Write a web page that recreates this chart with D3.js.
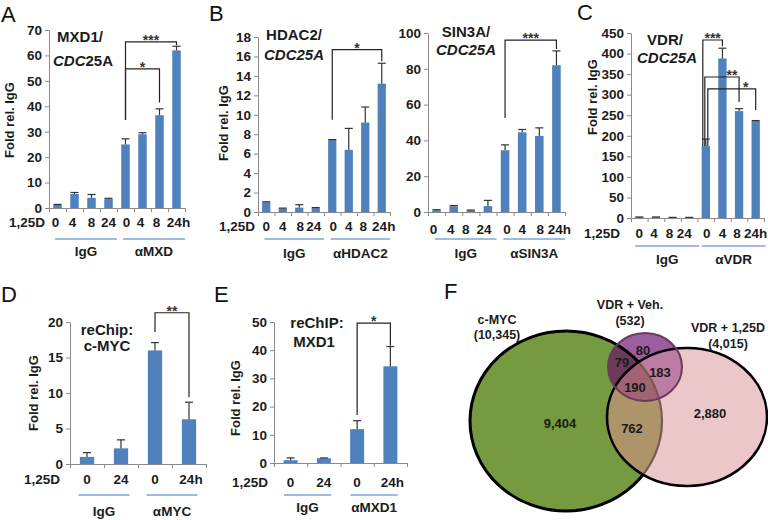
<!DOCTYPE html>
<html>
<head>
<meta charset="utf-8">
<script src="https://cdn.jsdelivr.net/npm/d3@7"></script>
<style>
  body { margin: 0; background: #fff; }
  text { font-family: "Liberation Sans", Arial, sans-serif; }
</style>
</head>
<body>
<script>
// ---- data ----
const timesLong = ["0", "4", "8", "24", "0", "4", "8", "24h"];
const timesShort = ["0", "24", "0", "24h"];

const mxd1Values = [1.2, 5.5, 4.0, 3.5, 25.0, 29.0, 36.5, 62.0];
const mxd1Errors = [0.2, 0.6, 1.3, 0.3, 2.2, 0.6, 2.5, 1.6];

const hdac2Values = [1.0, 0.35, 0.45, 0.4, 7.4, 6.4, 9.2, 13.2];
const hdac2Errors = [0.05, 0.05, 0.3, 0.05, 0.05, 2.2, 1.6, 2.1];

const sin3aValues = [1.0, 3.2, 0.8, 3.3, 34.5, 44.5, 42.5, 82.0];
const sin3aErrors = [0.3, 0.4, 0.3, 3.2, 3.0, 1.6, 4.5, 8.0];

const vdrValues = [2, 2, 1, 1, 175, 388, 260, 236];
const vdrErrors = [0.5, 0.5, 0.5, 0.5, 17, 25, 6, 1];

const mycReValues = [1.0, 2.2, 16.0, 6.3];
const mycReErrors = [0.6, 1.2, 1.1, 2.4];

const mxd1ReValues = [1.0, 1.7, 12.0, 34.3];
const mxd1ReErrors = [0.8, 0.1, 3.0, 7.0];

const vennSets = ["c-MYC", "VDR + Veh.", "VDR + 1,25D"];
const vennTotals = [10345, 532, 4015];
// regions: MYC only, Veh only, MYC&Veh, Veh&125D, all three, 125D only, MYC&125D
const vennRegions = [9404, 80, 79, 183, 190, 2880, 762];

const fmt = d3.format(",");
const BLUE = "#4f81bd", AXIS = "#8a8a8a", INK = "#1c1c1c";
const TICK_FS = 13.5;

const svg = d3.select("body").append("svg")
    .attr("width", 768)
    .attr("height", 520);

function barPanel(p) {
  const g = svg.append("g");
  const n = p.values.length;
  const x = d3.scaleBand().domain(d3.range(n)).range([p.x0, p.x1])
      .paddingInner(p.pad).paddingOuter(p.pad / 2);
  const edge = d3.scaleLinear().domain([0, n]).range([p.x0, p.x1]);
  const y = d3.scaleLinear().domain([0, p.yMax]).range([p.yZero, p.yTop]);
  const step = (p.x1 - p.x0) / n;
  const mid = i => x(i) + x.bandwidth() / 2;

  // bars
  g.selectAll("rect.bar").data(p.values).join("rect")
      .attr("class", "bar")
      .attr("x", (d, i) => x(i))
      .attr("y", d => y(d))
      .attr("width", x.bandwidth())
      .attr("height", d => p.yZero - y(d))
      .attr("fill", BLUE);

  // error bars
  const eb = g.selectAll("g.err").data(p.values.map((v, i) => ({v, e: p.errors[i], i})))
      .join("g").attr("class", "err")
      .attr("stroke", "#333").attr("stroke-width", 1.2);
  eb.append("line")
      .attr("x1", d => mid(d.i)).attr("x2", d => mid(d.i))
      .attr("y1", d => y(d.v)).attr("y2", d => y(d.v + d.e));
  eb.append("line")
      .attr("x1", d => mid(d.i) - 4).attr("x2", d => mid(d.i) + 4)
      .attr("y1", d => y(d.v + d.e)).attr("y2", d => y(d.v + d.e));

  // axes
  const ya = g.append("g").attr("transform", `translate(${p.x0},0)`)
      .call(d3.axisLeft(y).tickValues(d3.range(0, p.yMax + 0.001, p.yStep))
        .tickSize(4).tickPadding(3).tickSizeOuter(0));
  ya.attr("font-family", null).attr("font-size", null);
  ya.selectAll("path, line").attr("stroke", AXIS);
  ya.selectAll("text").attr("font-size", TICK_FS).attr("font-weight", "bold").attr("fill", INK);

  const xa = g.append("g").attr("transform", `translate(0,${p.yZero})`)
      .call(d3.axisBottom(edge).tickValues(d3.range(n + 1)).tickFormat("")
        .tickSize(4).tickSizeOuter(0));
  xa.selectAll("path, line").attr("stroke", AXIS);

  // category labels (typed with uneven spacing in the figure, hence catDx)
  const catDx = p.catDx || [];
  g.selectAll("text.cat").data(p.times).join("text")
      .attr("class", "cat")
      .attr("x", (d, i) => mid(i) + (catDx[i] || 0))
      .attr("y", p.tickY)
      .attr("text-anchor", "middle")
      .attr("font-size", TICK_FS).attr("font-weight", "bold").attr("fill", INK)
      .text(d => d);
  if (p.rowLabelX != null) {
    g.append("text").attr("x", p.rowLabelX).attr("y", p.tickY)
        .attr("text-anchor", "end")
        .attr("font-size", TICK_FS).attr("font-weight", "bold").attr("fill", INK)
        .text("1,25D");
  }

  // group lines + labels
  const per = n / p.groups.length;
  p.groups.forEach((name, k) => {
    const a = edge(k * per) + p.inL * step, b = edge((k + 1) * per) - p.inR * step;
    g.append("line").attr("x1", a).attr("x2", b).attr("y1", p.lineY).attr("y2", p.lineY)
        .attr("stroke", "#7ea6d6").attr("stroke-width", 1.5);
    g.append("text").attr("x", (a + b) / 2).attr("y", p.groupY)
        .attr("text-anchor", "middle")
        .attr("font-size", 13.5).attr("font-weight", "bold").attr("fill", INK)
        .text(name);
  });

  // significance brackets
  (p.brackets || []).forEach(b => {
    const xl = mid(b.from) + (b.dx || 0), xr = mid(b.to);
    g.append("path")
        .attr("d", `M${xl},${y(b.left)}V${y(b.top)}H${xr}V${y(b.right)}`)
        .attr("fill", "none").attr("stroke", "#222").attr("stroke-width", 1.2);
    g.append("text").attr("x", (xl + xr) / 2 + (b.lx || 0)).attr("y", y(b.top) + 3)
        .attr("text-anchor", "middle")
        .attr("font-size", 14).attr("font-weight", "bold").attr("fill", "#333")
        .text(b.label);
  });

  // title
  const t = p.title;
  t.lines.forEach((parts, li) => {
    const tx = g.append("text").attr("x", t.x[li]).attr("y", t.y[li])
        .attr("text-anchor", "middle")
        .attr("font-size", 15).attr("font-weight", "bold").attr("fill", INK);
    parts.forEach(([s, it]) => tx.append("tspan").attr("font-style", it ? "italic" : "normal").text(s));
  });

  // y label
  if (p.yLabel) {
    g.append("text")
        .attr("transform", `translate(${p.yLabel[0]},${p.yLabel[1]}) rotate(-90)`)
        .attr("text-anchor", "middle").attr("dominant-baseline", "central")
        .attr("font-size", 13).attr("font-weight", "bold").attr("fill", INK)
        .text("Fold rel. IgG");
  }

  // panel letter
  if (p.letter) {
    svg.append("text").attr("x", p.letter[1]).attr("y", p.letter[2])
        .attr("font-size", 22).attr("fill", "#111").text(p.letter[0]);
  }
}

barPanel({
  values: mxd1Values, errors: mxd1Errors, times: timesLong, groups: ["IgG", "αMXD"],
  x0: 49, x1: 185, yZero: 208, yTop: 30, yMax: 70, yStep: 10, pad: 0.5,
  tickY: 227, catDx: [-2, -2, 0, 0, 1, -2, -3, 2], rowLabelX: 45,
  lineY: 239, groupY: 256, inL: 0.35, inR: 0,
  title: {x: [80, 83], y: [42, 66], lines: [[["MXD1/", 0]], [["CDC", 1], ["25A", 0]]]},
  yLabel: [9, 120], letter: ["A", 1, 22],
  brackets: [
    {from: 4, to: 7, top: 65.3, left: 34.6, right: 64, label: "***"},
    {from: 4, to: 6, top: 54.7, left: 34.6, right: 41.5, label: "*"}
  ]
});

barPanel({
  values: hdac2Values, errors: hdac2Errors, times: timesLong, groups: ["IgG", "αHDAC2"],
  x0: 258, x1: 390, yZero: 212, yTop: 37, yMax: 18, yStep: 2, pad: 0.5,
  tickY: 231, catDx: [0, 0, 1, -2, 1, 0, -2, 2], rowLabelX: 255,
  lineY: 239, groupY: 258, inL: 0.4, inR: 0,
  title: {x: [294, 294], y: [40, 60], lines: [[["HDAC2/", 0]], [["CDC25A", 1]]]},
  yLabel: [223, 123], letter: ["B", 209, 21],
  brackets: [
    {from: 4, to: 7, top: 16.7, left: 9.5, right: 15.5, label: "*"}
  ]
});

barPanel({
  values: sin3aValues, errors: sin3aErrors, times: timesLong, groups: ["IgG", "αSIN3A"],
  x0: 428, x1: 565, yZero: 212, yTop: 33, yMax: 100, yStep: 20, pad: 0.5,
  tickY: 234, catDx: [-3, -3, -5, -4, 2, 0, 1, 3], rowLabelX: null,
  lineY: 239, groupY: 258, inL: 0.4, inR: 0,
  title: {x: [466, 466], y: [37, 55], lines: [[["SIN3A/", 0]], [["CDC25A", 1]]]},
  yLabel: null, letter: null,
  brackets: [
    {from: 4, to: 7, top: 96, left: 52.5, right: 91, label: "***"}
  ]
});

barPanel({
  values: vdrValues, errors: vdrErrors, times: timesLong, groups: ["IgG", "αVDR"],
  x0: 631, x1: 764, yZero: 218, yTop: 33, yMax: 450, yStep: 50, pad: 0.5,
  tickY: 238, catDx: [0, -2, -3, -5, 1, 0, -2, 0], rowLabelX: 620,
  lineY: 246, groupY: 264, inL: 0.25, inR: -0.1,
  title: {x: [665, 667], y: [45, 63], lines: [[["VDR/", 0]], [["CDC25A", 1]]]},
  yLabel: [592, 97], letter: ["C", 577, 20],
  brackets: [
    {from: 4, to: 5, top: 433, left: 175, right: 418, label: "***", dx: -3},
    {from: 4, to: 6, top: 343, left: 175, right: 282, label: "**", dx: -1, lx: 10},
    {from: 4, to: 7, top: 314, left: 175, right: 263, label: "*", dx: 2, lx: 14}
  ]
});

barPanel({
  values: mycReValues, errors: mycReErrors, times: timesShort, groups: ["IgG", "αMYC"],
  x0: 70, x1: 206, yZero: 464, yTop: 322, yMax: 20, yStep: 5, pad: 0.58,
  tickY: 484, catDx: [0, 0, 0, 2], rowLabelX: 60,
  lineY: 495, groupY: 516, inL: 0.25, inR: 0.25,
  title: {x: [107, 107], y: [335, 351], lines: [[["reChip:", 0]], [["c-MYC", 0]]]},
  yLabel: [33, 393], letter: ["D", 1, 302],
  brackets: [
    {from: 2, to: 3, top: 21.3, left: 18.6, right: 9.4, label: "**"}
  ]
});

barPanel({
  values: mxd1ReValues, errors: mxd1ReErrors, times: timesShort, groups: ["IgG", "αMXD1"],
  x0: 274, x1: 407, yZero: 463, yTop: 322, yMax: 50, yStep: 10, pad: 0.58,
  tickY: 487, catDx: [0, 0, 0, 2], rowLabelX: 268,
  lineY: 495, groupY: 512, inL: 0.3, inR: 0.28,
  title: {x: [317, 314], y: [328, 347], lines: [[["reChIP:", 0]], [["MXD1", 0]]]},
  yLabel: [235, 398], letter: ["E", 214, 302],
  brackets: [
    {from: 2, to: 3, top: 49.6, left: 17, right: 41.6, label: "*"}
  ]
});

// ---- Venn diagram (F) ----
const green = {cx: 566, cy: 421, rx: 96, ry: 90};
const pink = {cx: 687, cy: 417, rx: 80, ry: 69};
const purple = {cx: 645, cy: 367, rx: 37, ry: 34};

const defs = svg.append("defs");
function ell(sel, c) {
  return sel.append("ellipse").attr("cx", c.cx).attr("cy", c.cy).attr("rx", c.rx).attr("ry", c.ry);
}
ell(defs.append("clipPath").attr("id", "clipGreen"), green);
ell(defs.append("clipPath").attr("id", "clipPink"), pink);
const outPink = defs.append("mask").attr("id", "outPink");
outPink.append("rect").attr("width", 768).attr("height", 520).attr("fill", "#fff");
ell(outPink, pink).attr("fill", "#000");

const vg = svg.append("g");
ell(vg, green).attr("fill", "#769a3f");
ell(vg, pink).attr("fill", "#ebc7c9");
ell(vg.append("g").attr("clip-path", "url(#clipPink)"), green).attr("fill", "#ad9469");
ell(vg, purple).attr("fill", "#9b5f9d");
ell(vg.append("g").attr("clip-path", "url(#clipGreen)"), purple).attr("fill", "#6c3b59");
const pp = vg.append("g").attr("clip-path", "url(#clipPink)");
ell(pp, purple).attr("fill", "#bc7ca4");
ell(pp.append("g").attr("clip-path", "url(#clipGreen)"), purple).attr("fill", "#a06474");

// outlines
ell(vg.append("g").attr("mask", "url(#outPink)"), green)
    .attr("fill", "none").attr("stroke", "#000").attr("stroke-width", 3);
ell(vg.append("g").attr("clip-path", "url(#clipPink)"), green)
    .attr("fill", "none").attr("stroke", "#7a5a4e").attr("stroke-width", 2.2);
ell(vg, pink).attr("fill", "none").attr("stroke", "#000").attr("stroke-width", 2.6);
ell(vg, purple).attr("fill", "none").attr("stroke", "#6a3b5e").attr("stroke-width", 2);

// set names and totals
const setPos = [[497, 324, 339], [630, 309, 325], [728, 332, 348]];
vennSets.forEach((s, i) => {
  const [x, y1, y2] = setPos[i];
  vg.append("text").attr("x", x).attr("y", y1).attr("text-anchor", "middle")
      .attr("font-size", 12.5).attr("font-weight", "bold").attr("fill", INK).text(s);
  vg.append("text").attr("x", x).attr("y", y2).attr("text-anchor", "middle")
      .attr("font-size", 12.5).attr("font-weight", "bold").attr("fill", INK)
      .text("(" + fmt(vennTotals[i]) + ")");
});

// region counts
const regionPos = [[560, 428], [643, 355], [622, 367], [660, 377], [635, 392], [710, 418], [632, 433]];
vennRegions.forEach((v, i) => {
  vg.append("text").attr("x", regionPos[i][0]).attr("y", regionPos[i][1])
      .attr("text-anchor", "middle")
      .attr("font-size", 13).attr("font-weight", "bold").attr("fill", "#1a1a1a")
      .text(fmt(v));
});

svg.append("text").attr("x", 444).attr("y", 299)
    .attr("font-size", 22).attr("fill", "#111").text("F");
</script>
</body>
</html>
